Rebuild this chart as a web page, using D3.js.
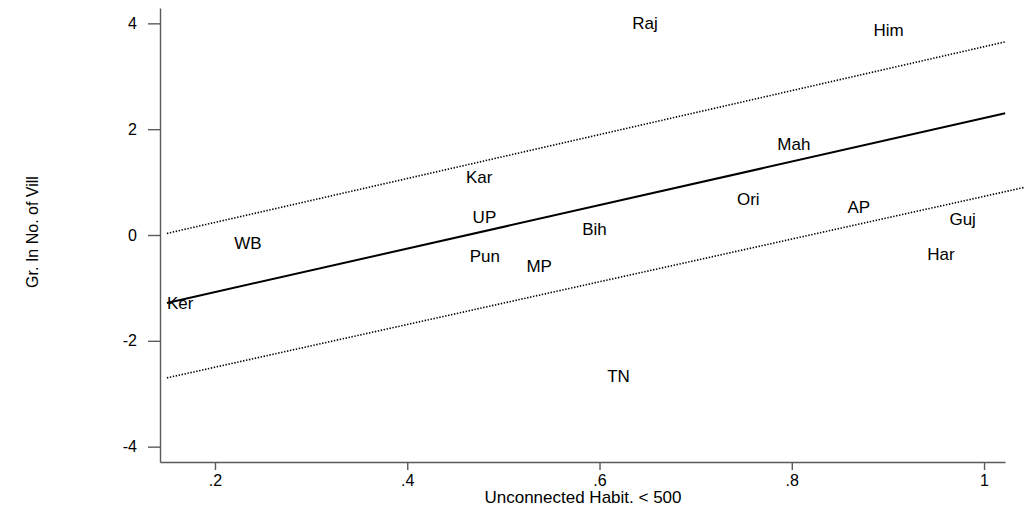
<!DOCTYPE html>
<html>
  <head>
    <meta charset="utf-8">
    <script src="https://d3js.org/d3.v7.min.js"></script>
    <style>
      body, html {
        margin: 0;
        background: white;
        font-family: 'Liberation Sans', Arial, sans-serif;
      }
      .axis path, .axis line {
        stroke: #5a5a5a;
        stroke-width: 1.4px;
      }
      .axis text {
        font-size: 16px;
        fill: #000;
        font-family: 'Liberation Sans', Arial, sans-serif;
      }
      .lbl {
        font-size: 17px;
        fill: #000;
      }
      .title {
        font-size: 17px;
        fill: #000;
        text-anchor: middle;
      }
    </style>
  </head>
  <body>
    <div id="chart"></div>
    <script>
      // states and their (x, y) positions
      var states = ["Raj", "Him", "Mah", "Kar", "UP", "Ori", "AP", "Guj", "Bih", "WB", "Pun", "Har", "MP", "Ker", "TN"];
      var unconnected = [0.634, 0.885, 0.785, 0.461, 0.468, 0.743, 0.858, 0.964, 0.582, 0.220, 0.465, 0.941, 0.524, 0.150, 0.608];
      var growth = [4.00, 3.88, 1.72, 1.09, 0.35, 0.68, 0.54, 0.31, 0.12, -0.15, -0.40, -0.35, -0.58, -1.28, -2.66];

      // fitted line and band ends
      var fitX = [0.150, 1.022];
      var fitY = [-1.285, 2.30];
      var upperX = [0.150, 1.022];
      var upperY = [0.03, 3.65];
      var lowerX = [0.150, 1.042];
      var lowerY = [-2.70, 0.90];

      var xTicks = [0.2, 0.4, 0.6, 0.8, 1];
      var yTicks = [-4, -2, 0, 2, 4];

      var width = 1024, height = 506;
      var margin = {top: 8, right: 19, bottom: 44, left: 160};

      var svg = d3.select("#chart")
        .append("svg")
        .attr("width", width)
        .attr("height", height);

      var x = d3.scaleLinear()
        .domain([0.1428, 1.0218])
        .range([margin.left, width - margin.right]);
      var y = d3.scaleLinear()
        .domain([-4.29, 4.29])
        .range([height - margin.bottom, margin.top]);

      svg.append("g")
        .attr("class", "axis")
        .attr("transform", "translate(0," + (height - margin.bottom) + ")")
        .call(d3.axisBottom(x)
          .tickValues(xTicks)
          .tickSize(8)
          .tickPadding(5)
          .tickSizeOuter(0)
          .tickFormat(d => d === 1 ? "1" : String(d).replace(/^0/, "")));

      svg.append("g")
        .attr("class", "axis")
        .attr("transform", "translate(" + margin.left + ",0)")
        .call(d3.axisLeft(y)
          .tickValues(yTicks)
          .tickSize(12)
          .tickPadding(11)
          .tickSizeOuter(0)
          .tickFormat(d => String(d)));

      var line = d3.line()
        .x(d => x(d[0]))
        .y(d => y(d[1]));

      svg.append("path")
        .datum(d3.zip(upperX, upperY))
        .attr("d", line)
        .attr("fill", "none")
        .attr("stroke", "#000")
        .attr("stroke-width", 1.6)
        .attr("stroke-dasharray", "1.4,1.6");

      svg.append("path")
        .datum(d3.zip(lowerX, lowerY))
        .attr("d", line)
        .attr("fill", "none")
        .attr("stroke", "#000")
        .attr("stroke-width", 1.6)
        .attr("stroke-dasharray", "1.4,1.6");

      svg.append("path")
        .datum(d3.zip(fitX, fitY))
        .attr("d", line)
        .attr("fill", "none")
        .attr("stroke", "#000")
        .attr("stroke-width", 2);

      svg.append("g").selectAll("text")
        .data(states)
        .enter()
        .append("text")
          .attr("class", "lbl")
          .attr("x", (d, i) => x(unconnected[i]))
          .attr("y", (d, i) => y(growth[i]))
          .attr("dy", "0.36em")
          .text(d => d);

      svg.append("text")
        .attr("class", "title")
        .attr("x", 583)
        .attr("y", 503)
        .text("Unconnected Habit. < 500");

      svg.append("text")
        .attr("class", "title")
        .attr("transform", "translate(38,232) rotate(-90)")
        .style("font-size", "16px")
        .text("Gr. In No. of Vill");
    </script>
  </body>
</html>
